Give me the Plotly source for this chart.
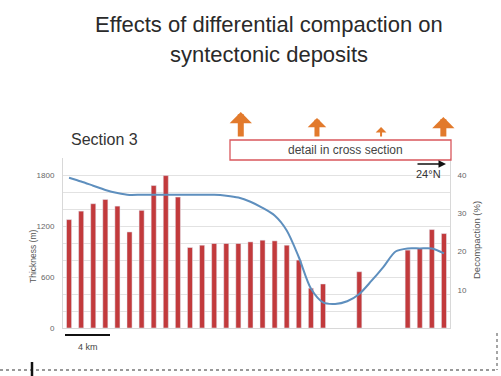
import plotly.graph_objects as go

# ---------------- data ----------------
positions = list(range(32))
thickness_m = [1275, 1375, 1462, 1512, 1434, 1130, 1384, 1676, 1793, 1540,
               947, 974, 994, 994, 994, 1013, 1033, 1025, 974, 799,
               468, 518, None, None, 662, None, None, None, 916, 936,
               1158, 1111]
decompaction_pct = [39.3, 38.3, 37.2, 36.1, 35.3, 34.8, 34.85, 34.85, 34.85, 34.85,
                    34.85, 34.85, 34.85, 34.6, 34.1, 33.0, 31.4, 29.4, 25.5, 18.5,
                    10.3, 6.7, 6.3, 7.0, 8.9, 12.3, 16.0, 20.0, 20.8, 20.8,
                    20.8, 19.5]
left_ticks = [0, 600, 1200, 1800]
right_ticks = [10, 20, 30, 40]
# arrows above the section: position (category units), tip height (px from top), shaft width
arrow_pos = [14.2, 20.5, 25.8, 30.95]
arrow_tip_px = [112, 118, 127, 117]
arrow_width = [6, 5, 2, 6]

W, H = 501, 376
L, R, T, B = 63, 51, 158, 48
PW, PH = W - L - R, H - T - B


def px(x, y):
    return (x - L) / PW, (H - B - y) / PH


fig = go.Figure()
fig.add_trace(go.Bar(x=positions, y=thickness_m, marker_color="#C23A3C",
                     width=0.42, yaxis="y", showlegend=False))
fig.add_trace(go.Scatter(x=positions, y=decompaction_pct, mode="lines",
                         line=dict(color="#5E8FBE", width=2, shape="spline", smoothing=0.8),
                         yaxis="y2", showlegend=False))

font_fam = "Liberation Sans, Arial, sans-serif"
ann = []
# title
for txt, yy in [("Effects of differential compaction on", 25), ("syntectonic deposits", 55)]:
    xp, yp = px(269, yy)
    ann.append(dict(text=txt, x=xp, y=yp, xref="paper", yref="paper", showarrow=False,
                    xanchor="center", yanchor="middle",
                    font=dict(family=font_fam, size=22, color="#2a2a2a")))
xp, yp = px(69, 139)
ann.append(dict(text="Section 3", x=xp, y=yp, xref="paper", yref="paper", showarrow=False,
                xanchor="left", yanchor="middle", font=dict(family=font_fam, size=16, color="#333")))
xp, yp = px(345, 150)
ann.append(dict(text="detail in cross section", x=xp, y=yp, xref="paper", yref="paper",
                showarrow=False, xanchor="center", yanchor="middle",
                font=dict(family=font_fam, size=12, color="#444")))
xp, yp = px(428, 174)
ann.append(dict(text="24°N", x=xp, y=yp, xref="paper", yref="paper", showarrow=False,
                xanchor="center", yanchor="middle", font=dict(family=font_fam, size=11, color="#333")))
# 24N arrow
xp, yp = px(446, 164)
ann.append(dict(text="", x=xp, y=yp, xref="paper", yref="paper", showarrow=True,
                ax=-30, ay=0, arrowhead=2, arrowsize=1, arrowwidth=1.5, arrowcolor="#111"))
xp, yp = px(88, 347)
ann.append(dict(text="4 km", x=xp, y=yp, xref="paper", yref="paper", showarrow=False,
                xanchor="center", yanchor="middle", font=dict(family=font_fam, size=9, color="#444")))
xp, yp = px(33, 256)
ann.append(dict(text="Thickness (m)", x=xp, y=yp, xref="paper", yref="paper", showarrow=False,
                textangle=-90, xanchor="center", yanchor="middle",
                font=dict(family=font_fam, size=8.5, color="#555")))
xp, yp = px(476, 240)
ann.append(dict(text="Decompaction (%)", x=xp, y=yp, xref="paper", yref="paper", showarrow=False,
                textangle=-90, xanchor="center", yanchor="middle",
                font=dict(family=font_fam, size=9.5, color="#555")))
# orange arrows
for xa, tip, w in zip(arrow_pos, arrow_tip_px, arrow_width):
    _, yp = px(0, tip)
    ann.append(dict(text="", x=xa, y=yp, xref="x", yref="paper", showarrow=True,
                    ax=0, ay=138 - tip, arrowhead=1, arrowsize=0.62 if w > 3 else 0.9,
                    arrowwidth=w, arrowcolor="#E27A2C"))

shapes = []
x0, y0 = px(230, 140)
x1, y1 = px(451, 160)
shapes.append(dict(type="rect", xref="paper", yref="paper", x0=x0, y0=y1, x1=x1, y1=y0,
                   line=dict(color="#D9575C", width=1.3), fillcolor="rgba(0,0,0,0)"))
# scale bar
x0, y0 = px(65, 335)
x1, _ = px(110, 335)
shapes.append(dict(type="line", xref="paper", yref="paper", x0=x0, y0=y0, x1=x1, y1=y0,
                   line=dict(color="#111", width=2)))
# bottom dashed line
x0, y0 = px(0, 370)
x1, _ = px(497, 370)
shapes.append(dict(type="line", xref="paper", yref="paper", x0=x0, y0=y0, x1=x1, y1=y0,
                   line=dict(color="#777", width=1.5, dash="dot")))
x0, y0 = px(497, 333)
_, y1 = px(497, 370)
shapes.append(dict(type="line", xref="paper", yref="paper", x0=x0, y0=y0, x1=x0, y1=y1,
                   line=dict(color="#888", width=1.5, dash="dot")))
x0, y0 = px(32, 362)
_, y1 = px(32, 376)
shapes.append(dict(type="line", xref="paper", yref="paper", x0=x0, y0=y0, x1=x0, y1=y1,
                   line=dict(color="#111", width=2.5)))

grid_c = "#E2E2E2"
fig.update_layout(
    width=W, height=H, margin=dict(l=L, r=R, t=T, b=B),
    paper_bgcolor="white", plot_bgcolor="white",
    font=dict(family=font_fam),
    xaxis=dict(range=[-0.5, 31.5], showticklabels=False, showgrid=False, zeroline=False,
               showline=True, linecolor="#D8D8D8", ticks=""),
    yaxis=dict(range=[0, 2000], tickvals=left_ticks, ticktext=[str(v) for v in left_ticks],
               showgrid=True, gridcolor=grid_c, zeroline=False, showline=True,
               linecolor="#D8D8D8", ticks="", ticklabelstandoff=6,
               tickfont=dict(size=8, color="#666"),
               minor=dict(dtick=200, showgrid=True, gridcolor=grid_c)),
    yaxis2=dict(range=[0, 2000 / 45], overlaying="y", side="right", tickvals=right_ticks,
                showgrid=False, zeroline=False, showline=True, linecolor="#D8D8D8",
                ticks="", ticklabelstandoff=5, tickfont=dict(size=8, color="#666")),
    annotations=ann, shapes=shapes, bargap=0.6,
)
fig.write_html("out.html", config={"displayModeBar": False},
               post_script="document.body.style.margin='0';document.body.style.overflow='hidden';")
